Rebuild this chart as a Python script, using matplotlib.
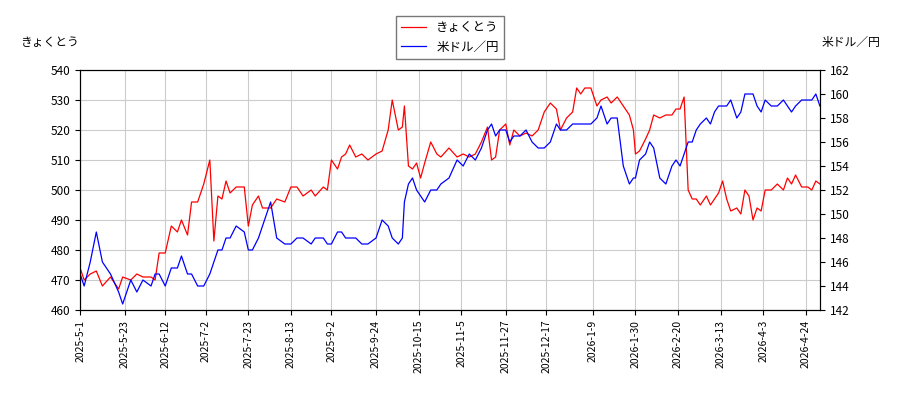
import matplotlib
matplotlib.use("Agg")
import matplotlib.pyplot as plt
import matplotlib.dates as mdates
import pandas as pd

plt.rcParams['font.family'] = ['Noto Sans CJK JP', 'DejaVu Sans']

start = pd.Timestamp("2025-05-01")
days = [0,2,5,8,11,15,19,21,25,28,31,35,37,39,42,45,48,50,53,55,58,61,64,66,68,70,72,74,77,81,
        83,85,88,90,94,97,101,104,107,110,114,116,120,122,124,127,129,131,133,136,139,142,146,149,152,154,157,159,160,162,
        164,166,168,170,173,176,178,182,186,189,192,195,198,201,203,205,207,210,212,214,217,220,223,226,229,232,235,237,240,243,
        245,247,249,252,255,257,260,262,265,268,271,273,274,276,279,281,283,286,289,292,294,296,298,300,302,304,306,309,311,313,
        315,317,319,321,324,326,328,330,332,334,336,338,341,344,347,349,351,353,356,359,361,363,365]
kyokutou = [474,470,472,473,468,471,467,471,470,472,471,471,470,479,479,488,486,490,485,496,496,502,510,483,498,497,503,499,501,501,
            488,495,498,494,494,497,496,501,501,498,500,498,501,500,510,507,511,512,515,511,512,510,512,513,520,530,520,521,528,508,
            507,509,504,509,516,512,511,514,511,512,511,512,516,521,510,511,520,522,515,520,518,519,518,520,526,529,527,520,524,526,
            534,532,534,534,528,530,531,529,531,528,525,520,512,513,517,520,525,524,525,525,527,527,531,500,497,497,495,498,495,497,
            499,503,497,493,494,492,500,498,490,494,493,500,500,502,500,504,502,505,501,501,500,503,502]
usdjpy = [145,144,146,148.5,146,145,143.5,142.5,144.5,143.5,144.5,144,145,145,144,145.5,145.5,146.5,145,145,144,144,145,146,147,147,148,148,149,148.5,
          147,147,148,149,151,148,147.5,147.5,148,148,147.5,148,148,147.5,147.5,148.5,148.5,148,148,148,147.5,147.5,148,149.5,149,148,147.5,148,151,152.5,
          153,152,151.5,151,152,152,152.5,153,154.5,154,155,154.5,155.5,157,157.5,156.5,157,157,156,156.5,156.5,157,156,155.5,155.5,156,157.5,157,157,157.5,
          157.5,157.5,157.5,157.5,158,159,157.5,158,158,154,152.5,153,153,154.5,155,156,155.5,153,152.5,154,154.5,154,155,156,156,157,157.5,158,157.5,158.5,
          159,159,159,159.5,158,158.5,160,160,160,159,158.5,159.5,159,159,159.5,159,158.5,159,159.5,159.5,159.5,160,159]
tick_labels = ["2025-5-1","2025-5-23","2025-6-12","2025-7-2","2025-7-23","2025-8-13","2025-9-2","2025-9-24",
               "2025-10-15","2025-11-5","2025-11-27","2025-12-17","2026-1-9","2026-1-30","2026-2-20","2026-3-13",
               "2026-4-3","2026-4-24"]

dates = [start + pd.Timedelta(days=d) for d in days]
ticks = [pd.Timestamp(t) for t in tick_labels]

fig = plt.figure(figsize=(9, 4), dpi=100)
ax = fig.add_axes([0.089, 0.225, 0.822, 0.6])
ax2 = ax.twinx()
l1, = ax.plot(dates, kyokutou, color="red", lw=0.9, label="きょくとう")
l2, = ax2.plot(dates, usdjpy, color="blue", lw=0.9, label="米ドル／円")

ax.set_ylim(460, 540)
ax.set_yticks(range(460, 541, 10))
ax2.set_ylim(142, 162)
ax2.set_yticks(range(142, 163, 2))
ax.set_xlim(dates[0], dates[-1])
ax.set_xticks(ticks)
ax.set_xticklabels(tick_labels, rotation=90, fontsize=7.5)
ax.tick_params(axis="y", labelsize=8.5)
ax2.tick_params(axis="y", labelsize=8.5)
ax.grid(True, color="#cccccc", lw=0.8)

fig.text(0.022, 0.885, "きょくとう", fontsize=8.5)
fig.text(0.978, 0.885, "米ドル／円", fontsize=8.5, ha="right")
fig.legend(handles=[l1, l2], loc="upper center", bbox_to_anchor=(0.5, 0.975),
           fontsize=9, frameon=True, fancybox=False, edgecolor="#555555")

fig.savefig("out.png", dpi=100)
